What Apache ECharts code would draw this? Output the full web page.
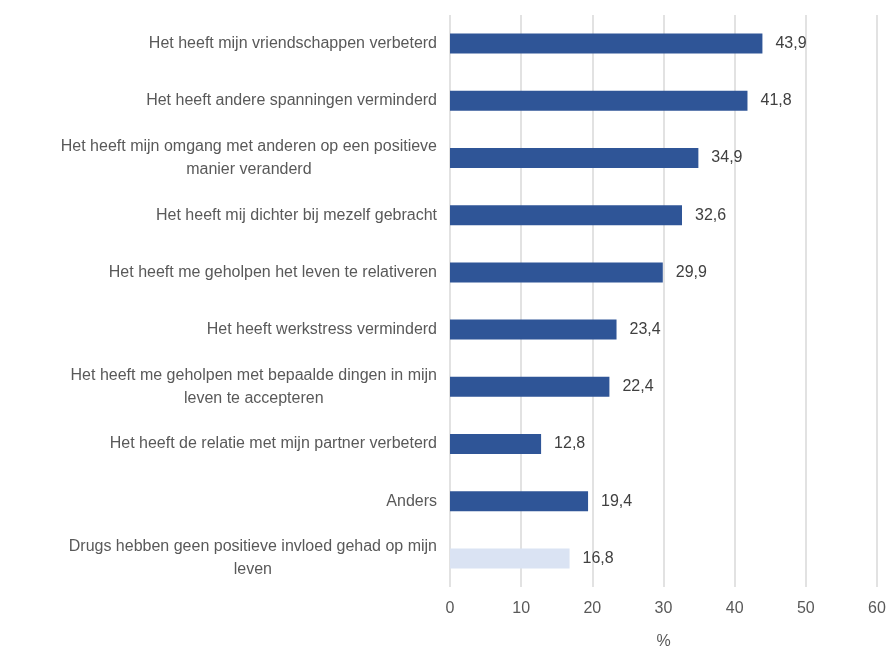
<!DOCTYPE html>
<html><head><meta charset="utf-8">
<script src="https://cdn.jsdelivr.net/npm/echarts@6/dist/echarts.min.js"></script>
<style>html,body{margin:0;padding:0;background:#fff}#c{width:889px;height:651px}</style>
</head><body><div id="c"></div>
<script>
const categories = [
  "Het heeft mijn vriendschappen verbeterd",
  "Het heeft andere spanningen verminderd",
  "Het heeft mijn omgang met anderen op een positieve\nmanier veranderd",
  "Het heeft mij dichter bij mezelf gebracht",
  "Het heeft me geholpen het leven te relativeren",
  "Het heeft werkstress verminderd",
  "Het heeft me geholpen met bepaalde dingen in mijn\nleven te accepteren",
  "Het heeft de relatie met mijn partner verbeterd",
  "Anders",
  "Drugs hebben geen positieve invloed gehad op mijn\nleven"
];
const values = [43.9, 41.8, 34.9, 32.6, 29.9, 23.4, 22.4, 12.8, 19.4, 16.8];
const xTicks = [0, 10, 20, 30, 40, 50, 60];
const axisName = "%";

const chart = echarts.init(document.getElementById('c'), null, {renderer: 'canvas'});
const font = "'Liberation Sans', Arial, sans-serif";
chart.setOption({
  animation: false,
  grid: {left: 450, right: 12, top: 15, bottom: 64, containLabel: false, outerBoundsMode: 'none'},
  xAxis: {
    type: 'value', min: xTicks[0], max: xTicks[xTicks.length-1], interval: 10,
    name: axisName, nameLocation: 'middle', nameGap: 47,
    nameTextStyle: {color: '#595959', fontSize: 16, fontFamily: font},
    axisLine: {show: false}, axisTick: {show: false},
    axisLabel: {color: '#595959', fontSize: 16, fontFamily: font, margin: 14},
    splitLine: {show: true, lineStyle: {color: '#d9d9d9', width: 1.5}}
  },
  yAxis: {
    type: 'category', data: categories, inverse: true,
    axisLine: {show: false}, axisTick: {show: false},
    axisLabel: {
      color: '#595959', fontSize: 16, fontFamily: font, margin: 13,
      formatter: v => v.split('\n').map(s => '{a|' + s + '}').join('\n'),
      rich: {a: {align: 'center', color: '#595959', fontSize: 16, fontFamily: font, lineHeight: 23}}
    }
  },
  series: [{
    type: 'bar', barWidth: 20,
    data: values.map((v, i) => ({value: v, itemStyle: {color: i === values.length - 1 ? '#DAE3F3' : '#2F5597'}})),
    label: {show: true, position: 'right', distance: 13, color: '#404040', fontSize: 16, fontFamily: font,
      formatter: p => p.value.toFixed(1).replace('.', ',')}
  }]
});
</script></body></html>
